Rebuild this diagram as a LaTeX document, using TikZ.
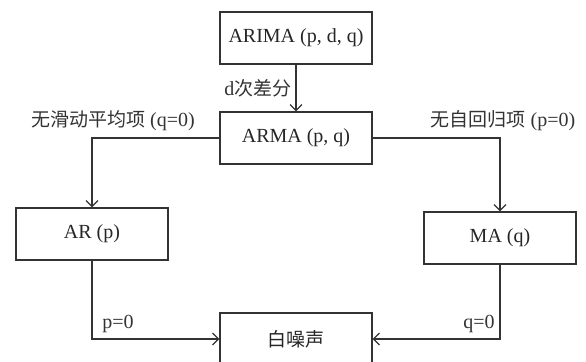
\documentclass[tikz,border=0pt]{standalone}
\usepackage{fontspec}
\setmainfont{Liberation Serif}
\newfontfamily\cjk{Noto Sans CJK SC}[Scale=0.95]
\usetikzlibrary{arrows.meta}
\tikzset{
  box/.style={draw=black!80, line width=0.6pt, minimum width=76pt, minimum height=26pt,
              inner sep=0pt, font=\fontsize{10}{12}\selectfont, text=black!85},
  link/.style={draw=black!80, line width=0.6pt, -{Straight Barb[length=3pt,width=6pt]}},
  lbl/.style={font=\fontsize{10}{12}\selectfont, text=black!80, inner sep=0pt},
}
\begin{document}
\begin{tikzpicture}[x=0.5pt, y=-0.5pt]
\useasboundingbox (0,0) rectangle (586,362);
% boxes
\node[box] (arima) at (296,38)  {ARIMA (p, d, q)};
\node[box] (arma)  at (296,138) {ARMA (p, q)};
\node[box] (ar)    at (92,234)  {AR (p)};
\node[box] (ma)    at (500,238) {MA (q)};
\node[box] (wn)    at (296,339) {\cjk 白噪声};
% connectors
\draw[link] (arima) -- (arma) node[lbl, midway, left=2pt] {d{\cjk 次差分}};
\draw[link] (arma.west) -| (ar.north);
\draw[link] (arma.east) -| (ma.north);
\draw[link] (ar.south) |- (wn.west);
\draw[link] (ma.south) |- (wn.east);
% branch labels
\node[lbl] (lq) at (113,121) {{\cjk 无滑动平均项} (q=0)};
\node[lbl] (lp) at (503,121) {{\cjk 无自回归项} (p=0)};
\node[lbl, anchor=base west] (lp0) at (102,329) {p=0};
\node[lbl, anchor=base east] (lq0) at (495,329) {q=0};
\end{tikzpicture}
\end{document}
